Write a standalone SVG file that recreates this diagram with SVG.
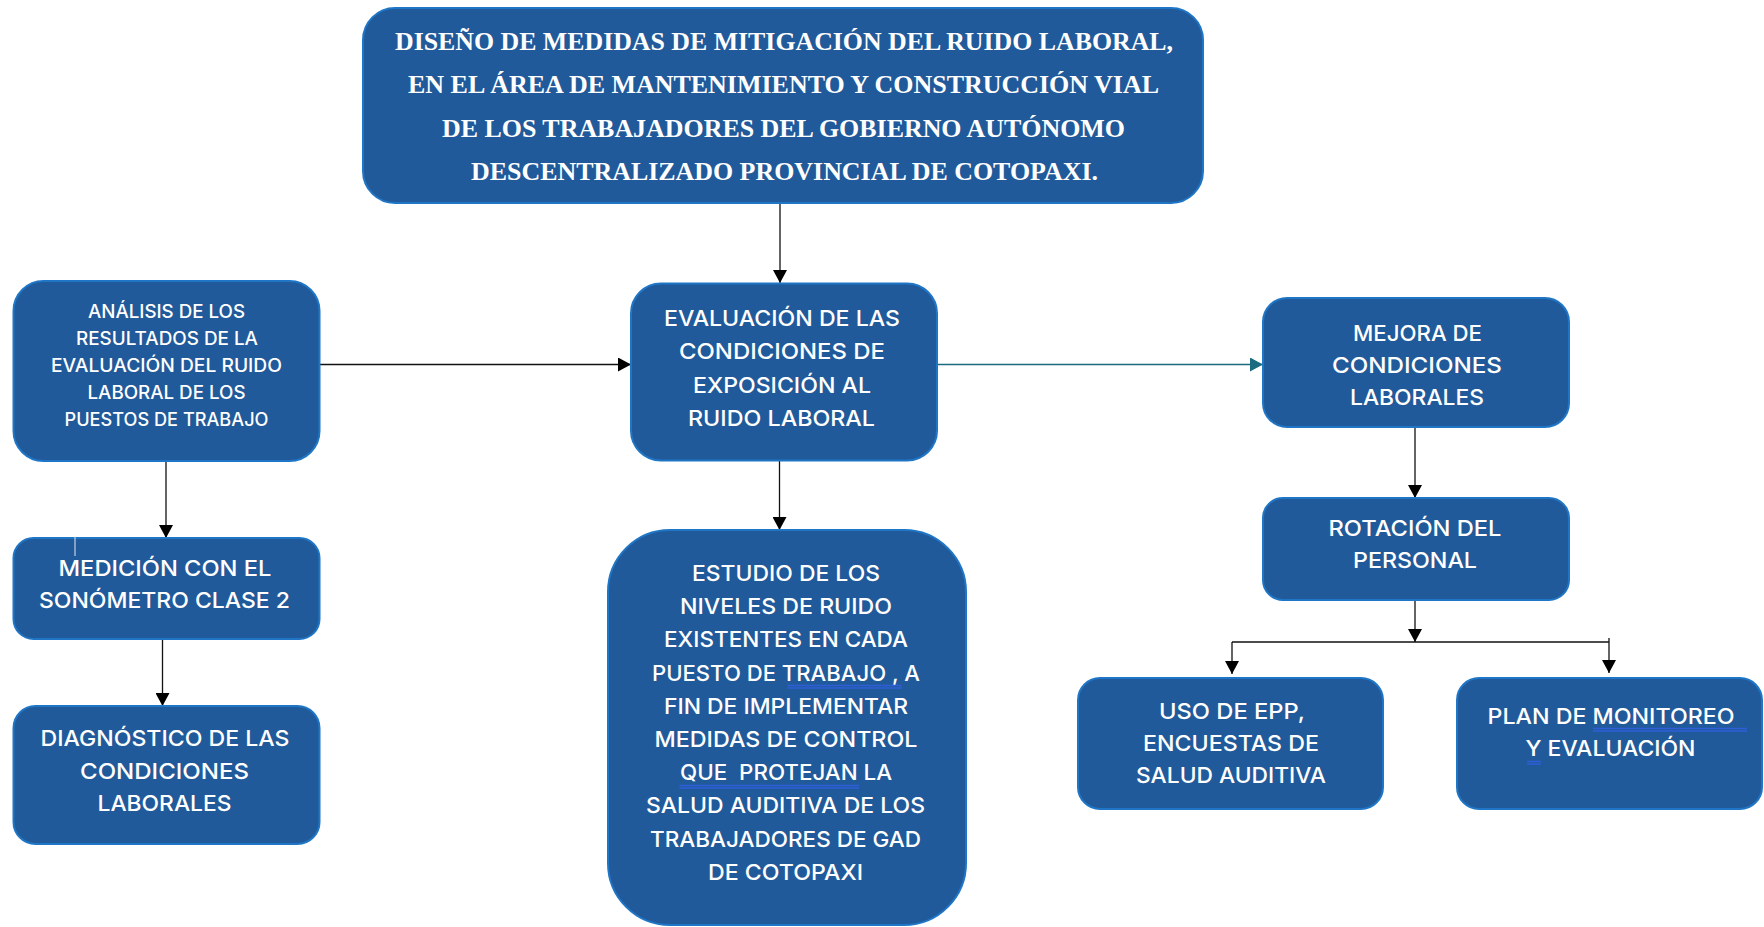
<svg xmlns="http://www.w3.org/2000/svg" width="1764" height="927" viewBox="0 0 1764 927">
<defs>
<marker id="ah" markerUnits="userSpaceOnUse" markerWidth="14" markerHeight="14" refX="13" refY="7" orient="auto"><path d="M0,0 L13,7 L0,14 z" fill="#000"/></marker>
<marker id="aht" markerUnits="userSpaceOnUse" markerWidth="14" markerHeight="14" refX="13" refY="7" orient="auto"><path d="M0,0 L13,7 L0,14 z" fill="#1c6a80"/></marker>
<style>
.box{fill:#215a9a;stroke:#1f76c6;stroke-width:2}
.t{fill:#fff;font-family:"Liberation Serif","Times New Roman",serif;font-weight:bold;font-size:25px;text-anchor:middle}
.s{fill:#fff;font-family:Inter,"Noto Sans",sans-serif;font-weight:500;font-size:22px;text-anchor:middle}
.sm{fill:#fff;font-family:Inter,"Noto Sans",sans-serif;font-weight:500;font-size:18px;text-anchor:middle}
.c{fill:none;stroke:#111;stroke-width:1.3}
.ct{fill:none;stroke:#1c6a80;stroke-width:1.3}
.ul{fill:none;stroke:#2f5fd8;stroke-width:1.3}
</style>
</defs>
<rect width="1764" height="927" fill="#fff"/>
<g id="connectors">
<path class="c" d="M780 203 V283" marker-end="url(#ah)"/>
<path class="c" d="M320 364.5 H631" marker-end="url(#ah)"/>
<path class="ct" d="M937 364.5 H1263" marker-end="url(#aht)"/>
<path class="c" d="M166 461 V538" marker-end="url(#ah)"/>
<path class="c" d="M162.5 639 V706" marker-end="url(#ah)"/>
<path class="c" d="M779.5 461 V530" marker-end="url(#ah)"/>
<path class="c" d="M1415 427 V498" marker-end="url(#ah)"/>
<path class="c" d="M1415 600 V642" marker-end="url(#ah)"/>
<path class="c" d="M1232 642 H1609"/>
<path class="c" d="M1232 642 V674" marker-end="url(#ah)"/>
<path class="c" d="M1609 638 V673" marker-end="url(#ah)"/>
</g>
<g id="titulo">
<rect class="box" x="363" y="8" width="840" height="195" rx="32"/>
<text class="t" x="784" y="50" textLength="778" lengthAdjust="spacingAndGlyphs">DISEÑO DE MEDIDAS DE MITIGACIÓN DEL RUIDO LABORAL,</text>
<text class="t" x="783.5" y="93" textLength="751" lengthAdjust="spacingAndGlyphs">EN EL ÁREA DE MANTENIMIENTO Y CONSTRUCCIÓN VIAL</text>
<text class="t" x="783.5" y="137" textLength="683" lengthAdjust="spacingAndGlyphs">DE LOS TRABAJADORES DEL GOBIERNO AUTÓNOMO</text>
<text class="t" x="784.5" y="180" textLength="627" lengthAdjust="spacingAndGlyphs">DESCENTRALIZADO PROVINCIAL DE COTOPAXI.</text>
</g>
<g id="analisis">
<rect class="box" x="13.5" y="281" width="306" height="180" rx="30"/>
<text class="sm" x="166.5" y="318" textLength="157" lengthAdjust="spacingAndGlyphs">ANÁLISIS DE LOS</text>
<text class="sm" x="167" y="345" textLength="182" lengthAdjust="spacingAndGlyphs">RESULTADOS DE LA</text>
<text class="sm" x="166.5" y="372" textLength="231" lengthAdjust="spacingAndGlyphs">EVALUACIÓN DEL RUIDO</text>
<text class="sm" x="166.5" y="399" textLength="158" lengthAdjust="spacingAndGlyphs">LABORAL DE LOS</text>
<text class="sm" x="166.5" y="426" textLength="204" lengthAdjust="spacingAndGlyphs">PUESTOS DE TRABAJO</text>
</g>
<g id="medicion">
<rect class="box" x="13.5" y="538" width="306" height="101" rx="20"/>
<path d="M75 537 V556" stroke="#e0e6ee" stroke-width="1" fill="none"/>
<text class="s" x="165" y="576" textLength="213" lengthAdjust="spacingAndGlyphs">MEDICIÓN CON EL</text>
<text class="s" x="164.5" y="608" textLength="251" lengthAdjust="spacingAndGlyphs">SONÓMETRO CLASE 2</text>
</g>
<g id="diagnostico">
<rect class="box" x="13.5" y="706" width="306" height="138" rx="22"/>
<text class="s" x="165" y="746" textLength="249" lengthAdjust="spacingAndGlyphs">DIAGNÓSTICO DE LAS</text>
<text class="s" x="164.5" y="779" textLength="169" lengthAdjust="spacingAndGlyphs">CONDICIONES</text>
<text class="s" x="164.5" y="811" textLength="134" lengthAdjust="spacingAndGlyphs">LABORALES</text>
</g>
<g id="evaluacion">
<rect class="box" x="631" y="283.5" width="306" height="177" rx="30"/>
<text class="s" x="782" y="326" textLength="236" lengthAdjust="spacingAndGlyphs">EVALUACIÓN DE LAS</text>
<text class="s" x="782" y="359" textLength="206" lengthAdjust="spacingAndGlyphs">CONDICIONES DE</text>
<text class="s" x="782" y="393" textLength="178" lengthAdjust="spacingAndGlyphs">EXPOSICIÓN AL</text>
<text class="s" x="781.5" y="425.5" textLength="187" lengthAdjust="spacingAndGlyphs">RUIDO LABORAL</text>
</g>
<g id="estudio">
<rect class="box" x="608" y="530" width="358" height="395" rx="62"/>
<text class="s" x="786" y="581" textLength="188" lengthAdjust="spacingAndGlyphs">ESTUDIO DE LOS</text>
<text class="s" x="786" y="614" textLength="212" lengthAdjust="spacingAndGlyphs">NIVELES DE RUIDO</text>
<text class="s" x="786" y="647" textLength="244" lengthAdjust="spacingAndGlyphs">EXISTENTES EN CADA</text>
<text class="s" x="786" y="681" textLength="268" lengthAdjust="spacingAndGlyphs">PUESTO DE TRABAJO , A</text>
<text class="s" x="786" y="714" textLength="244" lengthAdjust="spacingAndGlyphs">FIN DE IMPLEMENTAR</text>
<text class="s" x="786" y="747" textLength="263" lengthAdjust="spacingAndGlyphs">MEDIDAS DE CONTROL</text>
<text class="s" x="786" y="780" textLength="212" lengthAdjust="spacingAndGlyphs" xml:space="preserve">QUE  PROTEJAN LA</text>
<text class="s" x="785.5" y="813" textLength="279" lengthAdjust="spacingAndGlyphs">SALUD AUDITIVA DE LOS</text>
<text class="s" x="785.5" y="847" textLength="271" lengthAdjust="spacingAndGlyphs">TRABAJADORES DE GAD</text>
<text class="s" x="785.5" y="880" textLength="155" lengthAdjust="spacingAndGlyphs">DE COTOPAXI</text>
<path class="ul" d="M787.5 685.5 H902 M787.5 688 H902 M679.5 785.5 H859 M679.5 788 H859"/>
</g>
<g id="mejora">
<rect class="box" x="1263" y="298" width="306" height="129" rx="24"/>
<text class="s" x="1417.5" y="341" textLength="129" lengthAdjust="spacingAndGlyphs">MEJORA DE</text>
<text class="s" x="1417" y="373" textLength="170" lengthAdjust="spacingAndGlyphs">CONDICIONES</text>
<text class="s" x="1417" y="405" textLength="134" lengthAdjust="spacingAndGlyphs">LABORALES</text>
</g>
<g id="rotacion">
<rect class="box" x="1263" y="498" width="306" height="102" rx="20"/>
<text class="s" x="1415" y="536" textLength="173" lengthAdjust="spacingAndGlyphs">ROTACIÓN DEL</text>
<text class="s" x="1415" y="568" textLength="124" lengthAdjust="spacingAndGlyphs">PERSONAL</text>
</g>
<g id="uso-epp">
<rect class="box" x="1078" y="678" width="305" height="131" rx="22"/>
<text class="s" x="1232" y="719" textLength="146" lengthAdjust="spacingAndGlyphs">USO DE EPP,</text>
<text class="s" x="1231" y="751" textLength="176" lengthAdjust="spacingAndGlyphs">ENCUESTAS DE</text>
<text class="s" x="1231" y="783" textLength="190" lengthAdjust="spacingAndGlyphs">SALUD AUDITIVA</text>
</g>
<g id="plan">
<rect class="box" x="1457" y="678" width="305" height="131" rx="22"/>
<text class="s" x="1611" y="724" textLength="247" lengthAdjust="spacingAndGlyphs">PLAN DE MONITOREO</text>
<text class="s" x="1610.5" y="756" textLength="170" lengthAdjust="spacingAndGlyphs">Y EVALUACIÓN</text>
<path class="ul" d="M1593 728.5 H1747 M1593 731 H1747 M1527 761.5 H1541 M1527 764 H1541"/>
</g>
</svg>
